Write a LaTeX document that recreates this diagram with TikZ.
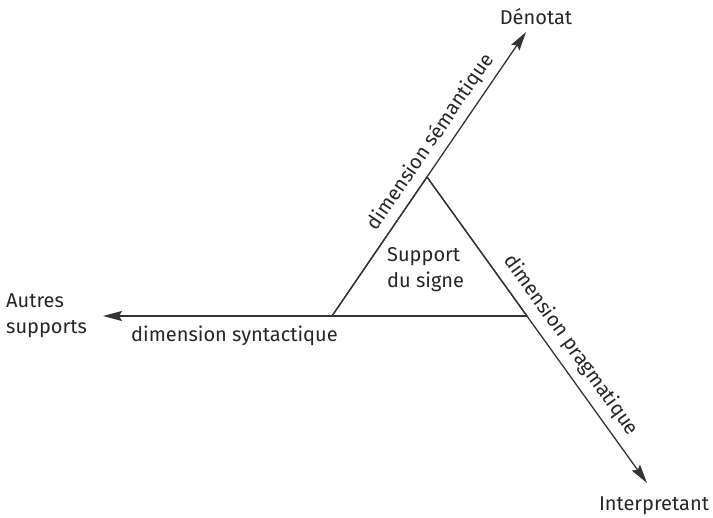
\documentclass[tikz,border=0pt]{standalone}
\usepackage{fontspec}
\setmainfont{Fira Sans}
\usetikzlibrary{arrows.meta}
\begin{document}
\begin{tikzpicture}[x=1pt,y=-1pt,
  axis/.style={draw=black!80,line width=1.3pt,-{Stealth[length=19pt,width=10pt,inset=3pt]}},
  side/.style={draw=black!80,line width=1.3pt},
  lbl/.style={font=\fontsize{20}{24}\selectfont,text=black!85,inner sep=0pt},
  dimlbl/.style={font=\fontsize{20}{24}\selectfont,text=black!85,inner sep=0pt,sloped}]
\useasboundingbox (0,0) rectangle (713,518);
\coordinate (L) at (332,316);
\coordinate (T) at (427,177);
\coordinate (R) at (527,316);
\coordinate (Dtip) at (526,32);
\coordinate (Atip) at (103,316);
\coordinate (Itip) at (647,483);
\node[lbl] (den) at (536,17) {Dénotat};
\node[lbl,align=left,anchor=west] (aut) at (6,316) {Autres\\[2pt]supports};
\node[lbl] (int) at (654,506) {Interpretant};
\node[lbl,align=left,anchor=north west] (sup) at (387,247) {Support\\[2pt]du signe};
\draw[side] (L) -- (T);
\draw[side] (T) -- (R);
\draw[axis] (R) -- (Atip) node[lbl,pos=0.69,below=9pt] (syn) {dimension syntactique};
\draw[axis] (L) -- (Dtip) node[dimlbl,pos=0.58,above=6pt] (sem) {dimension sémantique};
\draw[axis] (T) -- (Itip) node[dimlbl,pos=0.585,above=8pt] (prag) {dimension pragmatique};
\end{tikzpicture}
\end{document}
